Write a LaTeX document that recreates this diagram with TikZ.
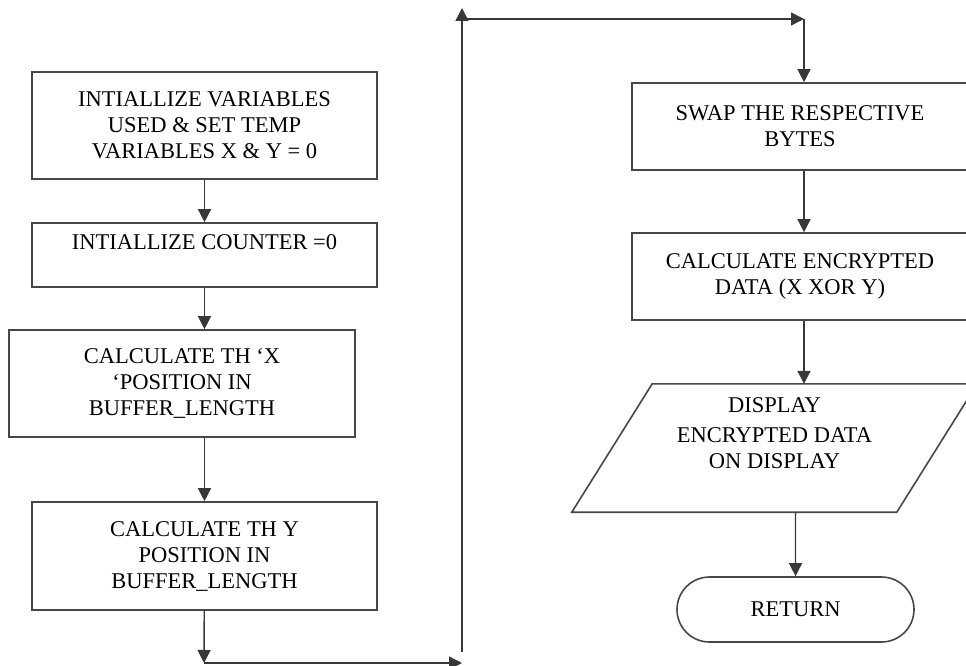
\documentclass[tikz,border=0pt]{standalone}
\usepackage{fontspec}
\setmainfont{Liberation Serif}
\usetikzlibrary{arrows.meta,shapes.misc}

\begin{document}
\begin{tikzpicture}[x=1pt,y=-1pt,
  every node/.style={font=\fontsize{22.5}{26}\selectfont, align=center, inner sep=0pt},
  stepbox/.style={draw=black!72, line width=1.6pt, minimum height=#1},
  arr/.style={draw=black!78, line width=1.4pt, -{Triangle[length=13pt,width=13pt]}}]
  \useasboundingbox (0,0) rectangle (966,666); \clip (0,0) rectangle (966,666);
  \node[stepbox=107, minimum width=345] (init) at (204.5,125.5) {INTIALLIZE VARIABLES\\USED \& SET TEMP\\VARIABLES X \& Y = 0};
  \node[stepbox=64, minimum width=345] (cnt) at (204.5,255) {INTIALLIZE COUNTER =0\\\mbox{}};
  \node[stepbox=107, minimum width=346] (calcx) at (182,383.5) {CALCULATE TH `X\\`POSITION IN\\BUFFER\_LENGTH};
  \node[stepbox=108, minimum width=345] (calcy) at (204.5,556) {CALCULATE TH Y\\POSITION IN\\BUFFER\_LENGTH};
  \node[stepbox=87, minimum width=336] (swap) at (800,126.5) {SWAP THE RESPECTIVE\\BYTES};
  \node[stepbox=87, minimum width=336] (enc) at (800,276.5) {CALCULATE ENCRYPTED\\DATA (X XOR Y)};
  \node[minimum width=405, minimum height=128] (disp) at (774.5,448) {DISPLAY\\[4pt]ENCRYPTED DATA\\ON DISPLAY\\[4pt]};
  \draw[black!72, line width=1.6pt] (disp.south west) -- ++(325,0) -- (disp.north east) -- ++(-325,0) -- cycle;
  \node[draw=black!72, line width=1.6pt, rounded rectangle, minimum width=237, minimum height=65] (ret) at (795.5,609.5) {RETURN};
  \coordinate (lb) at (204,663); \coordinate (lr) at (462,663); \coordinate (ub) at (462,652); \coordinate (ut) at (462,8);
  \coordinate (ul) at (462,19); \coordinate (ur) at (804,19);
  \draw[arr] (init) -- (cnt); \draw[arr] (cnt.south) -- (cnt.south |- calcx.north); \draw[arr] (calcy.north |- calcx.south) -- (calcy);
  \draw[arr] (calcy) -- (lb); \draw[arr] (lb) -- (lr); \draw[arr] (ub) -- (ut);
  \draw[arr] (ul) -- (ur); \draw[arr] (ur) -- (ur |- swap.north);
  \draw[arr] (ur |- swap.south) -- (ur |- enc.north); \draw[arr] (ur |- enc.south) -- (ur |- disp.north);
  \draw[arr] (ret.north |- disp.south) -- (ret);
\end{tikzpicture}
\end{document}
